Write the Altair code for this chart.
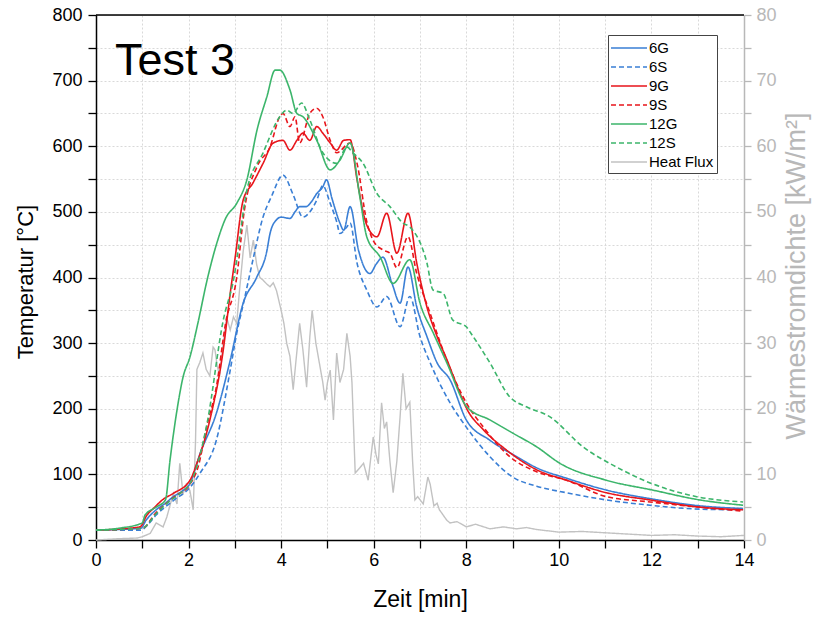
import altair as alt
import pandas as pd

# ---------------- data ----------------
series_names = ["6G", "6S", "9G", "9S", "12G", "12S", "Heat Flux"]
series_colors = ["#3a7fd5", "#3a7fd5", "#e8151b", "#e8151b", "#3cb56b", "#3cb56b", "#c2c2c2"]
series_dashes = [[1, 0], [5, 3], [1, 0], [5, 3], [1, 0], [5, 3], [1, 0]]

t_6G = [0, 0.5, 0.97, 1.08, 1.3, 1.5, 1.67, 1.85, 2.03, 2.25, 2.6, 2.9, 3.18, 3.47, 3.69, 3.76,
        3.9, 4.0, 4.19, 4.3, 4.4, 4.54, 4.65, 4.77, 4.9, 4.98, 5.1, 5.27, 5.35, 5.49, 5.67, 5.92,
        6.05, 6.2, 6.4, 6.57, 6.74, 6.93, 7.15, 7.37, 7.65, 8.0, 8.51, 9.09, 9.52, 10.17, 11.03,
        11.97, 13.05, 13.98]
T_6G = [15, 16, 18, 30, 46, 56, 66, 74, 86, 132, 193, 274, 361, 400, 440, 467,
        488, 492, 490, 500, 508, 508, 515, 528, 538, 549, 520, 483, 472, 508, 442, 406,
        420, 431, 390, 361, 416, 355, 310, 270, 244, 183, 152, 127, 110, 94, 76,
        63, 52, 48]

t_6S = [0, 0.97, 1.1, 1.3, 1.67, 2.03, 2.25, 2.6, 2.9, 3.04, 3.2, 3.4, 3.6, 3.8, 4.04, 4.26,
        4.47, 4.62, 4.77, 4.9, 5.06, 5.2, 5.27, 5.42, 5.49, 5.64, 5.85, 6.07, 6.28, 6.57, 6.78,
        7.0, 7.22, 7.65, 8.0, 8.51, 9.0, 9.52, 10.17, 11.03, 11.97, 13.05, 13.98]
T_6S = [15, 15, 22, 38, 60, 80, 102, 152, 259, 315, 365, 430, 490, 525, 556, 526,
        492, 500, 518, 540, 513, 485, 467, 477, 483, 422, 381, 355, 371, 325, 371,
        310, 270, 209, 172, 127, 96, 82, 72, 61, 53, 47, 46]

t_9G = [0, 0.95, 1.1, 1.24, 1.45, 1.67, 2.03, 2.18, 2.46, 2.75, 2.9, 3.0, 3.18, 3.39, 3.61,
        3.83, 4.04, 4.19, 4.34, 4.47, 4.62, 4.77, 4.9, 5.06, 5.2, 5.35, 5.49, 5.64, 5.85, 6.07,
        6.28, 6.5, 6.74, 6.93, 7.15, 7.37, 7.58, 7.8, 8.01, 8.37, 8.87, 9.52, 10.17, 11.03,
        11.97, 13.05, 13.98]
T_9G = [15, 20, 38, 48, 62, 71, 91, 117, 183, 290, 376, 427, 518, 544, 574,
        605, 609, 594, 609, 620, 609, 630, 620, 605, 594, 609, 610, 549, 480, 462,
        498, 437, 498, 422, 355, 310, 275, 235, 200, 168, 137, 107, 91, 72,
        61, 50, 46]

t_9S = [0, 1.0, 1.3, 1.7, 2.03, 2.2, 2.4, 2.6, 2.8, 3.04, 3.2, 3.48, 3.76, 3.97, 4.04, 4.19,
        4.3, 4.4, 4.62, 4.77, 4.9, 5.06, 5.2, 5.49, 5.64, 5.85, 6.0, 6.2, 6.35, 6.5, 6.74,
        6.93, 7.22, 7.6, 8.0, 8.37, 8.94, 9.52, 10.17, 11.03, 11.97, 13.05, 13.98]
T_9S = [15, 18, 42, 66, 85, 110, 175, 233, 330, 400, 500, 569, 599, 645, 650, 630,
        645, 605, 650, 658, 645, 609, 590, 605, 574, 485, 455, 442, 437, 415, 462,
        406, 345, 270, 209, 172, 127, 104, 91, 66, 58, 50, 44]

t_12G = [0, 0.5, 1.0, 1.06, 1.3, 1.5, 1.6, 1.75, 1.88, 2.03, 2.2, 2.4, 2.6, 2.8, 3.04, 3.26,
         3.48, 3.69, 3.87, 3.97, 4.19, 4.34, 4.47, 4.77, 5.06, 5.27, 5.49, 5.7, 5.85, 6.14,
         6.42, 6.78, 7.0, 7.29, 7.58, 8.01, 8.51, 9.0, 9.52, 10.02, 11.03, 12.03, 13.05, 13.98]
T_12G = [15, 18, 26, 38, 50, 61, 122, 198, 248, 279, 330, 396, 450, 490, 513, 549,
         625, 675, 716, 716, 686, 650, 645, 609, 564, 579, 605, 523, 462, 431,
         391, 427, 361, 315, 270, 203, 183, 163, 142, 117, 91, 76, 61, 53]

t_12S = [0, 1.0, 1.3, 1.6, 1.8, 2.1, 2.4, 2.75, 2.97, 3.26, 3.61, 3.97, 4.12, 4.26, 4.44,
         4.62, 4.9, 5.2, 5.42, 5.55, 5.77, 6.07, 6.35, 6.63, 6.78, 7.15, 7.28, 7.5, 7.71, 8.0,
         8.1, 8.51, 8.94, 9.3, 9.8, 10.52, 11.25, 11.97, 12.98, 13.98]
T_12S = [15, 18, 40, 60, 70, 96, 178, 335, 396, 533, 590, 645, 655, 650, 666,
         640, 590, 574, 599, 590, 574, 528, 508, 483, 477, 422, 381, 376, 335, 325,
         315, 270, 218, 203, 188, 142, 111, 87, 66, 58]

t_HF = [0, 0.5, 0.9, 1.0, 1.17, 1.3, 1.45, 1.53, 1.67, 1.75, 1.81, 1.88, 1.95, 2.03, 2.1,
        2.15, 2.18, 2.24, 2.31, 2.38, 2.46, 2.53, 2.57, 2.62, 2.67, 2.75, 2.82, 2.9, 2.97,
        3.04, 3.1, 3.18, 3.26, 3.33, 3.4, 3.47, 3.54, 3.61, 3.69, 3.76, 3.83, 3.9, 4.0, 4.06,
        4.12, 4.19, 4.26, 4.33, 4.4, 4.47, 4.55, 4.62, 4.67, 4.75, 4.84, 4.9, 4.95, 5.0, 5.06,
        5.13, 5.2, 5.27, 5.35, 5.42, 5.49, 5.53, 5.6, 5.7, 5.78, 5.88, 5.99, 6.05, 6.1, 6.17,
        6.23, 6.28, 6.35, 6.42, 6.5, 6.57, 6.63, 6.7, 6.78, 6.84, 6.89, 6.95, 7.07, 7.17, 7.22,
        7.3, 7.37, 7.42, 7.58, 7.65, 7.8, 8.0, 8.2, 8.51, 8.8, 9.09, 9.3, 9.52, 10.0, 10.5,
        11.0, 11.5, 12.0, 12.5, 13.0, 13.5, 14.0]
Q_HF = [0, 0.2, 0.3, 0.5, 1.0, 2.6, 2.0, 3.5, 7.1, 5.5, 11.7, 7.0, 8.5, 7.5, 4.6,
        15, 26, 27, 28.5, 26, 25, 29.4, 29, 26.5, 25, 30, 34, 32, 34,
        33, 38, 44, 48, 43, 45.7, 42, 40, 39.6, 39, 38.6, 39.2, 38, 35, 33,
        30, 28, 22.9, 28, 33, 29, 23.3, 31, 35, 30, 26.4, 24, 21.3, 24, 25.9,
        18.3, 28.5, 24, 26, 31.5, 28, 24, 10.2, 11, 11.7, 9.1, 15.7, 13, 11.6, 20.9,
        17, 18, 12, 7.2, 12, 18.8, 25.4, 20, 21, 12, 6.1, 6.6, 5.5, 9.6, 8.5,
        5.2, 5.6, 4.6, 3.0, 2.6, 2.8, 2.0, 2.4, 1.7, 2.0, 1.7, 1.9, 1.6, 1.2, 1.3,
        1.1, 0.9, 0.7, 0.8, 0.6, 0.5, 0.7]

x_ticks = list(range(0, 15))
y_ticks = list(range(0, 801, 50))
y2_ticks = list(range(0, 81, 5))

# ---------------- tables ----------------
rows = []
for name, ts, vs in [("6G", t_6G, T_6G), ("6S", t_6S, T_6S), ("9G", t_9G, T_9G),
                     ("9S", t_9S, T_9S), ("12G", t_12G, T_12G), ("12S", t_12S, T_12S)]:
    for a, b in zip(ts, vs):
        rows.append({"series": name, "t": a, "T": b})
df_temp = pd.DataFrame(rows)
df_hf = pd.DataFrame({"series": "Heat Flux", "t": t_HF, "Q": Q_HF})

FONT = "Liberation Sans"
W, H = 648, 525

color_scale = alt.Scale(domain=series_names, range=series_colors)
dash_scale = alt.Scale(domain=series_names, range=series_dashes)
legend = alt.Legend(
    title=None, orient="none", legendX=512, legendY=20, symbolType="M-2,0H2",
    symbolSize=324, symbolOffset=8, symbolStrokeWidth=1.6, labelFontSize=15, labelFont=FONT,
    labelColor="black", strokeColor="#444", fillColor="white", padding=3,
    rowPadding=1, labelOffset=10, cornerRadius=0,
)

x_axis = alt.Axis(
    values=x_ticks, labelExpr="datum.value % 2 == 0 ? datum.label : ''",
    title="Zeit [min]", titleFontSize=23, titleFont=FONT, titleFontWeight="normal",
    titleColor="black", titleX=W / 2, titleY=59, titleBaseline="middle",
    labelFontSize=18, labelFont=FONT, labelColor="black", labelPadding=3, labelFlush=False,
    tickSize=8, tickColor="black", domainColor="black", domainWidth=1.5, tickWidth=1.3,
    grid=True, gridColor="#d9d9d9", gridDash=[2, 2], gridWidth=1,
)
x_scale = alt.Scale(domain=[0, 14], nice=False)

hf = alt.Chart(df_hf).mark_line(strokeWidth=1.4).encode(
    x=alt.X("t:Q", scale=x_scale, axis=x_axis),
    y=alt.Y(
        "Q:Q", scale=alt.Scale(domain=[0, 80], nice=False),
        axis=alt.Axis(
            orient="right", values=y2_ticks,
            labelExpr="datum.value % 10 == 0 ? datum.label : ''",
            title="Wärmestromdichte [kW/m²]", titleFontSize=27, titleFont=FONT,
            titleFontWeight="normal", titleColor="#b8b8b8", titleAngle=270,
            titleX=52, titleY=H / 2 - 2, titleBaseline="middle", titleAlign="center",
            labelFontSize=18, labelFont=FONT, labelColor="#b8b8b8", labelPadding=5,
            labelFlush=False,
            tickSize=7, tickColor="#b8b8b8", domainColor="#b8b8b8", domainWidth=1.5,
            tickWidth=1.3, grid=False,
        ),
    ),
    color=alt.Color("series:N", scale=color_scale, legend=legend),
    strokeDash=alt.StrokeDash("series:N", scale=dash_scale, legend=legend),
)

temp = alt.Chart(df_temp).mark_line(strokeWidth=1.6, interpolate="monotone").encode(
    x=alt.X("t:Q", scale=x_scale, axis=x_axis),
    y=alt.Y(
        "T:Q", scale=alt.Scale(domain=[0, 800], nice=False),
        axis=alt.Axis(
            orient="left", values=y_ticks,
            labelExpr="datum.value % 100 == 0 ? datum.label : ''",
            title="Temperatur [°C]", titleFontSize=22, titleFont=FONT,
            titleFontWeight="normal", titleColor="black", titleAngle=270,
            titleX=-71, titleY=H / 2 + 4, titleBaseline="middle", titleAlign="center",
            labelFontSize=18, labelFont=FONT, labelColor="black", labelPadding=6,
            labelFlush=False,
            tickSize=8, tickColor="black", domainColor="black", domainWidth=1.5,
            tickWidth=1.3, grid=True, gridColor="#d9d9d9", gridDash=[2, 2], gridWidth=1,
        ),
    ),
    color=alt.Color("series:N", scale=color_scale, legend=legend),
    strokeDash=alt.StrokeDash("series:N", scale=dash_scale, legend=legend),
)

top_border = alt.Chart(pd.DataFrame({"k": [0]})).mark_rule(
    color="black", strokeWidth=1.5
).encode(x=alt.value(0), x2=alt.value(W), y=alt.value(0))

label = alt.Chart(pd.DataFrame({"txt": ["Test 3"]})).mark_text(
    fontSize=45, font=FONT, align="left", baseline="alphabetic", color="black"
).encode(text="txt:N", x=alt.value(19), y=alt.value(60))

chart = alt.layer(hf, temp, top_border, label).resolve_scale(
    y="independent"
).properties(
    width=W, height=H,
    autosize=alt.AutoSizeParams(type="none"),
    padding={"left": 96, "top": 15, "right": 71, "bottom": 77},
).configure_view(stroke=None).configure(background="white")

chart.save("out.html", embed_options={"renderer": "svg", "actions": False})
